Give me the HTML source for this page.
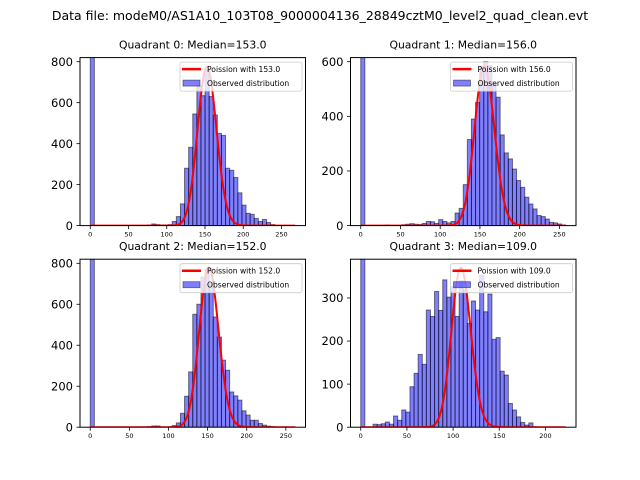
<!DOCTYPE html>
<html><head><meta charset="utf-8"><style>
html,body{margin:0;padding:0;background:#fff;}
svg{display:block;font-family:"DejaVu Sans","Liberation Sans",sans-serif;}
</style></head><body>
<svg id="chart" width="640" height="480" viewBox="0 0 640 480" xmlns="http://www.w3.org/2000/svg">
<rect width="640" height="480" fill="#fff"/>
<text x="320" y="20" font-size="12.5" text-anchor="middle">Data file: modeM0/AS1A10_103T08_9000004136_28849cztM0_level2_quad_clean.evt</text>
</svg>
<script>
const medians = [153.0, 156.0, 152.0, 109.0];
const poissonPeaks = [775, 585, 780, 370];
const dataMax = [268, 258, 262, 222];
const yMax = [820, 615, 820, 390];
const yTicks0 = [0,200,400,600,800];
const yTicks1 = [0,200,400,600];
const yTicks2 = [0,200,400,600,800];
const yTicks3 = [0,100,200,300];
const xTicks0 = [0,50,100,150,200,250];
const xTicks1 = [0,50,100,150,200,250];
const xTicks2 = [0,50,100,150,200,250];
const xTicks3 = [0,50,100,150,200];
const counts0 = [1500,0,0,0,0,0,0,0,0,0,0,0,0,0,3,8,5,3,3,5,20,44,106,280,382,545,683,634,760,630,540,450,440,280,270,235,160,100,60,55,35,20,30,15,5,0,0,0,0,0];
const counts1 = [1500,0,0,0,0,0,2,0,0,0,3,5,7,5,4,8,15,14,8,22,15,10,15,46,63,150,315,390,451,580,600,585,520,470,332,266,244,207,165,140,104,79,61,37,33,24,12,10,6,2];
const counts2 = [1500,0,0,0,0,0,0,0,0,0,0,0,0,0,3,6,6,0,0,0,8,21,68,151,270,551,600,733,770,700,538,440,327,278,172,153,132,80,59,34,34,18,10,5,3,0,0,0,0,0];
const counts3 = [1500,0,0,7,6,8,12,7,26,16,40,35,94,125,169,146,272,257,315,271,342,302,326,257,340,319,241,293,272,353,268,309,204,208,130,121,55,40,24,11,5,10,1,0,0,0,0,0,0,0];

const allCounts=[counts0,counts1,counts2,counts3];
const allYTicks=[yTicks0,yTicks1,yTicks2,yTicks3];
const allXTicks=[xTicks0,xTicks1,xTicks2,xTicks3];
const NS="http://www.w3.org/2000/svg";
const svg=document.getElementById('chart');
const AW=225.5, AH=168;
const origins=[[80,57.6],[350.5,57.6],[80,259.2],[350.5,259.2]];
function mk(tag,attrs,parent){const e=document.createElementNS(NS,tag);for(const k in attrs)e.setAttribute(k,attrs[k]);(parent||svg).appendChild(e);return e;}
function lgamma(x){
  let r=0; while(x<7){r-=Math.log(x);x+=1;}
  return r+(x-0.5)*Math.log(x)-x+0.5*Math.log(2*Math.PI)+1/(12*x)-1/(360*x*x*x);
}
for(let q=0;q<4;q++){
  const [ox,oy]=origins[q];
  const xmaxD=dataMax[q], pad=0.05*xmaxD;
  const x0=-pad, x1=xmaxD+pad;
  const sx=v=>ox+(v-x0)/(x1-x0)*AW;
  const sy=v=>oy+AH-v/yMax[q]*AH;
  const g=mk('g',{});
  
  
  const cp=mk('clipPath',{id:'clip'+q},g);
  mk('rect',{x:ox,y:oy,width:AW,height:AH},cp);
  const bars=mk('g',{'clip-path':'url(#clip'+q+')'},g);
  
  
  const counts=allCounts[q], bw=xmaxD/counts.length;
  counts.forEach((c,i)=>{
    if(c<=0)return;
    const r=mk('rect',{x:sx(i*bw),y:sy(c),width:sx((i+1)*bw)-sx(i*bw),height:sy(0)-sy(c),fill:'#0000ff','fill-opacity':0.5,stroke:'#000','stroke-opacity':0.5,'stroke-width':1},bars);
    
    
  });
  const lam=medians[q];
  const ref=lam*Math.log(lam)-lam-lgamma(lam+1);
  let d='';
  for(let k=0;k<=xmaxD;k++){
    const lp=(k===0?-lam:k*Math.log(lam)-lam-lgamma(k+1));
    const v=poissonPeaks[q]*Math.exp(lp-ref);
    d+=(k===0?'M':'L')+sx(k).toFixed(2)+','+sy(v).toFixed(2);
  }
  const pl=mk('path',{d:d,fill:'none',stroke:'#ff0000','stroke-width':2,'clip-path':'url(#clip'+q+')'},g);
  
  
  const fr=mk('rect',{x:ox,y:oy,width:AW,height:AH,fill:'none',stroke:'#000','stroke-width':1},g);
  
  
  allXTicks[q].forEach(t=>{
    const X=sx(t);
    mk('line',{x1:X,x2:X,y1:oy+AH,y2:oy+AH+3.5,stroke:'#000','stroke-width':0.8},g);
    const tx=mk('text',{x:X,y:oy+AH+11,'font-size':6.5,'text-anchor':'middle'},g);
    tx.textContent=t;
    
    
  });
  allYTicks[q].forEach(t=>{
    const Y=sy(t);
    mk('line',{x1:ox,x2:ox-3.5,y1:Y,y2:Y,stroke:'#000','stroke-width':0.8},g);
    const tx=mk('text',{x:ox-7,y:Y+4.2,'font-size':11.5,'text-anchor':'end'},g);
    tx.textContent=t;
    
    
  });
  const tt=mk('text',{x:ox+AW/2,y:oy-9,'font-size':10.8,'text-anchor':'middle'},g);
  tt.textContent='Quadrant '+q+': Median='+medians[q].toFixed(1);
  
  
  const lg=mk('g',{},g);
  
  
  const lx=ox+AW-125.5, ly=oy+4.5;
  mk('rect',{x:lx,y:ly,width:122,height:29,rx:2,fill:'#fff','fill-opacity':0.8,stroke:'#ccc','stroke-width':0.8},lg);
  mk('line',{x1:lx+2,x2:lx+21,y1:ly+7,y2:ly+7,stroke:'#ff0000','stroke-width':2.5},lg);
  const t1=mk('text',{x:lx+27,y:ly+9.8,'font-size':7.6},lg);
  t1.textContent='Poission with '+medians[q].toFixed(1);
  
  
  mk('rect',{x:lx+3,y:ly+18,width:17,height:6,fill:'#0000ff','fill-opacity':0.5,stroke:'#000','stroke-opacity':0.5,'stroke-width':0.8},lg);
  const t2=mk('text',{x:lx+27,y:ly+23.8,'font-size':7.6},lg);
  t2.textContent='Observed distribution';
  
  
}
</script>
</body></html>
